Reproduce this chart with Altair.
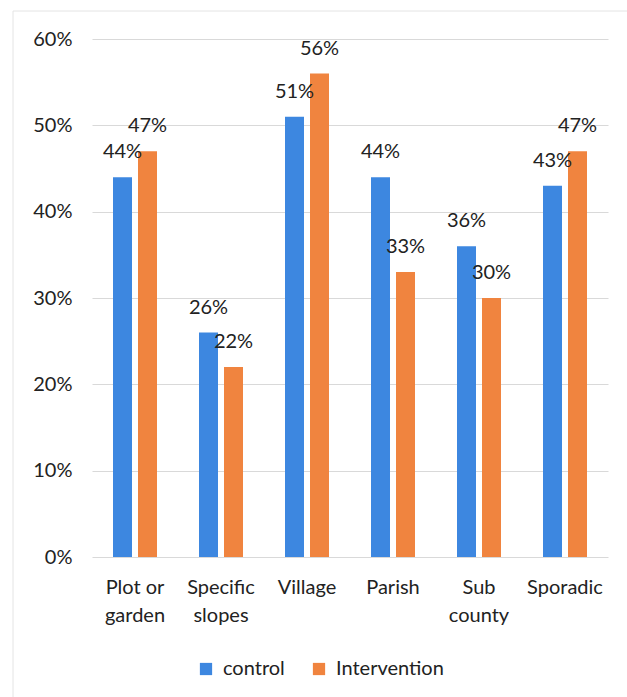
import altair as alt
import pandas as pd

# Location categories (line breaks mark the two-line axis labels)
categories = ["Plot or\ngarden", "Specific\nslopes", "Village", "Parish", "Sub\ncounty", "Sporadic"]
control = [0.44, 0.26, 0.51, 0.44, 0.36, 0.43]
intervention = [0.47, 0.22, 0.56, 0.33, 0.30, 0.47]
series = ["control", "Intervention"]
colors = ["#3d87e0", "#f0843f"]

rows = []
for cat, c, i in zip(categories, control, intervention):
    rows.append({"cat": cat, "group": "control", "value": c})
    rows.append({"cat": cat, "group": "Intervention", "value": i})
df = pd.DataFrame(rows)

FONT = "Lato"
TEXT = "#222222"
FS = 20

base = alt.Chart(df).encode(
    x=alt.X(
        "cat:N",
        sort=categories,
        scale=alt.Scale(paddingInner=0, paddingOuter=0),
        axis=alt.Axis(
            title=None,
            labelAngle=0,
            labelExpr="split(datum.label, '\\n')",
            labelFontSize=FS,
            labelLineHeight=28,
            labelPadding=20,
            labelColor=TEXT,
            labelFont=FONT,
            ticks=False,
            domain=False,
            grid=False,
        ),
    ),
    xOffset=alt.XOffset(
        "group:N",
        sort=series,
        scale=alt.Scale(paddingInner=0.24, paddingOuter=0.84),
    ),
    y=alt.Y(
        "value:Q",
        scale=alt.Scale(domain=[0, 0.6]),
        axis=alt.Axis(
            title=None,
            format=".0%",
            values=[0, 0.1, 0.2, 0.3, 0.4, 0.5, 0.6],
            labelFontSize=FS,
            labelPadding=20,
            labelColor=TEXT,
            labelFont=FONT,
            ticks=False,
            domain=False,
            gridColor="#d9d9d9",
            gridWidth=1,
        ),
    ),
)

bars = base.mark_bar().encode(
    color=alt.Color(
        "group:N",
        sort=series,
        scale=alt.Scale(domain=series, range=colors),
        legend=alt.Legend(
            title=None,
            orient="none",
            direction="horizontal",
            legendX=104,
            legendY=620,
            symbolType="square",
            symbolSize=150,
            symbolStrokeWidth=0,
            labelFontSize=FS,
            labelFont=FONT,
            labelColor=TEXT,
            columnPadding=24,
            labelOffset=7,
        ),
    )
)

labels = base.mark_text(fontSize=FS, font=FONT, color=TEXT, dy=-25, baseline="middle").encode(
    text=alt.Text("value:Q", format=".0%")
)

# faint page frame along the top and left edges
frame_df = pd.DataFrame({"k": [0]})
frame_top = alt.Chart(frame_df).mark_rule(color="#e4e4e4", strokeWidth=1).encode(
    x=alt.value(-79), x2=alt.value(535), y=alt.value(-28)
)
frame_left = alt.Chart(frame_df).mark_rule(color="#e4e4e4", strokeWidth=1).encode(
    x=alt.value(-79), y=alt.value(-28), y2=alt.value(658)
)

chart = (
    alt.layer(frame_top, frame_left, bars, labels)
    .properties(
        width=516,
        height=518,
        autosize=alt.AutoSizeParams(type="none"),
        padding={"left": 92, "top": 39, "right": 19, "bottom": 140},
        background="white",
    )
    .configure_view(stroke=None)
)

chart.save("out.html", embed_options={"renderer": "svg", "actions": False})
